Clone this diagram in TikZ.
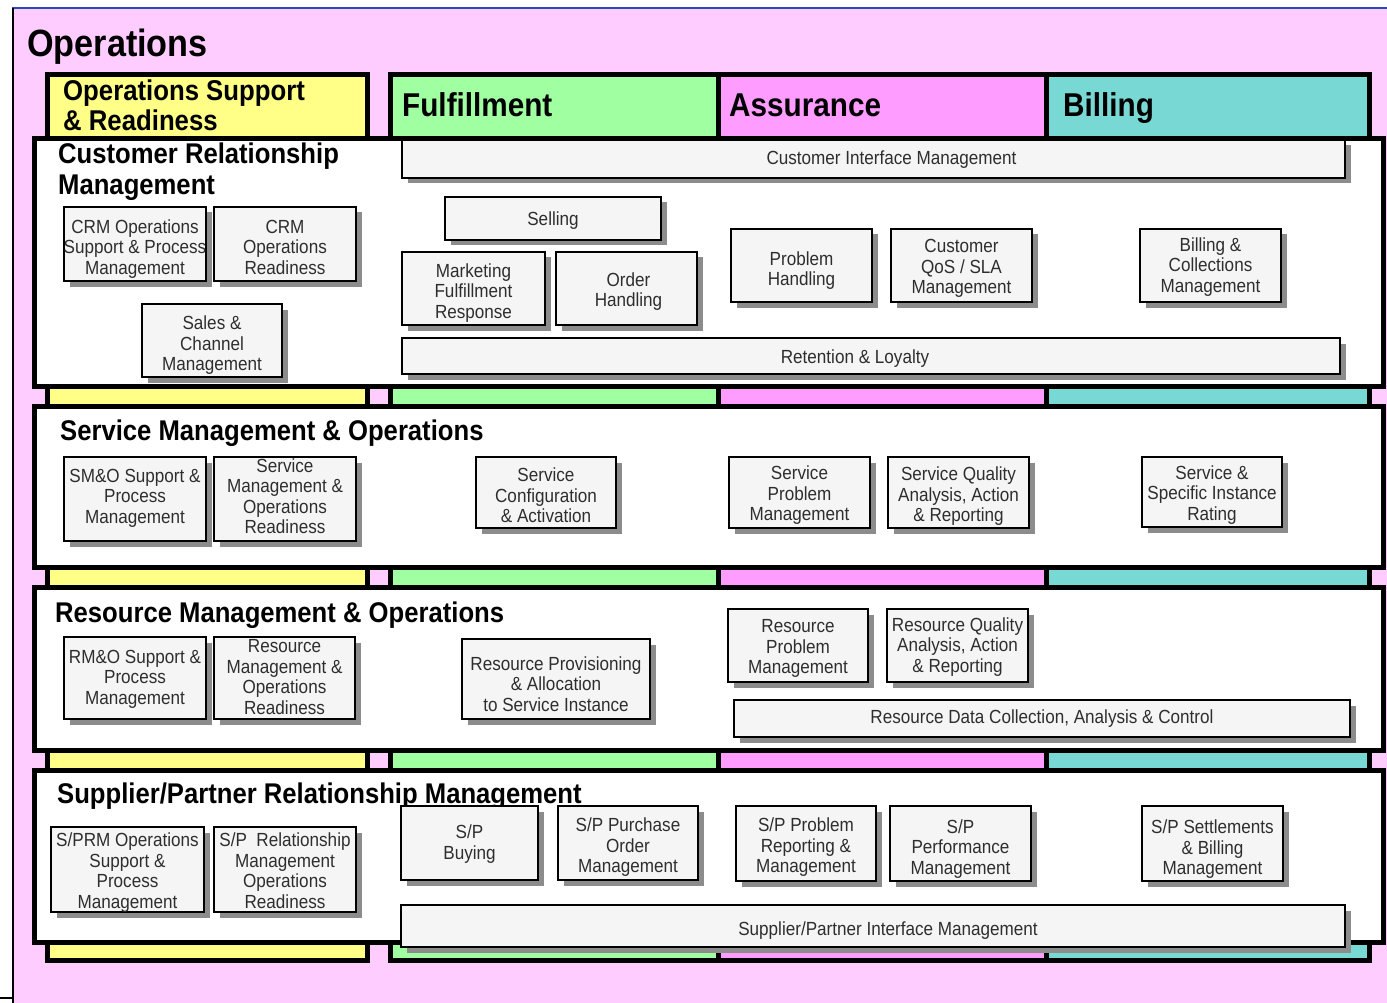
\documentclass[tikz,border=0pt]{standalone}
\usepackage{fontspec}
\setmainfont{Liberation Sans}[FakeStretch=0.9]
\usetikzlibrary{shadows}

\definecolor{pinkbg}{HTML}{FFCCFF}
\definecolor{colyellow}{HTML}{FFFF88}
\definecolor{colgreen}{HTML}{A0FFA0}
\definecolor{colmagenta}{HTML}{FF9CFF}
\definecolor{colteal}{HTML}{78D8D4}
\definecolor{boxfill}{HTML}{F5F5F5}
\definecolor{shadowgray}{HTML}{8C8C8C}
\definecolor{topblue}{HTML}{2848C0}

% process box given by its corner coordinates; the optional argument
% lowers its label by that many points
\newcommand{\pbox}[7][3]{%
  \node[pbox, minimum width={(#5-#3)*1pt}, minimum height={(#6-#4)*1pt}]
    (#2) at ({(#3+#5)/2},{(#4+#6)/2}) {};
  \node[pboxtext] (#2t) at ([yshift=-#1pt]#2.center) {#7};}

\tikzset{
  pbox/.style={draw=black, line width=1.5pt, fill=boxfill, inner sep=0pt,
    drop shadow={shadow xshift=5.5pt, shadow yshift=-5.5pt,
      fill=shadowgray, opacity=1}},
  pboxtext/.style={inner sep=0pt, align=center, text=black!82,
    font=\fontsize{19}{20.5}\selectfont},
  column/.style={draw=black, line width=5pt},
  band/.style={draw=black, line width=5pt, fill=white},
  bandtitle/.style={anchor=base west, inner sep=0pt, align=left,
    font=\bfseries\fontsize{28.5}{31}\selectfont},
  colhead/.style={anchor=base west, inner sep=0pt,
    font=\bfseries\fontsize{33}{36}\selectfont},
}

\begin{document}
\begin{tikzpicture}[x=1pt, y=-1pt]
  \useasboundingbox (0,0) rectangle (1387,1003);
  \fill[white] (0,0) rectangle (1387,1003);

  % page frame
  \fill[pinkbg] (12,8) rectangle (1387,1003);
  \draw[topblue, line width=2pt] (12,8.5) -- (1387,8.5);
  \draw[black, line width=2pt] (12.5,8) -- (12.5,1003);
  \draw[black, line width=1.5pt] (0,998) -- (12,998);

  \node[anchor=base west, inner sep=0pt,
    font=\bfseries\fontsize{38}{40}\selectfont] (ops) at (27,57) {Operations};

  % vertical process groupings
  \draw[column, fill=colyellow]  (47.5,74.5) rectangle (367.5,960.5);
  \draw[column, fill=colgreen]   (390.5,74.5) rectangle (718,960.5);
  \draw[column, fill=colmagenta] (718,74.5) rectangle (1046.5,960.5);
  \draw[column, fill=colteal]    (1046.5,74.5) rectangle (1369.5,960.5);

  \node[bandtitle, font=\bfseries\fontsize{28.6}{30}\selectfont]
    (osr) at (63,131) {Operations Support\\\& Readiness};
  \node[colhead] (ful) at (402,117) {Fulfillment};
  \node[colhead] (ass) at (729,117) {Assurance};
  \node[colhead] (bil) at (1063,117) {Billing};

  % horizontal management layers
  \draw[band] (34.5,138.5) rectangle (1383.5,386.5);
  \draw[band] (34.5,406.5) rectangle (1383.5,567);
  \draw[band] (34.5,587.5) rectangle (1383.5,750);
  \draw[band] (34.5,770.5) rectangle (1383.5,942.5);

  \node[bandtitle] (crm) at (58,195) {Customer Relationship\\Management};
  \node[bandtitle] (smo) at (60,440) {Service Management \& Operations};
  \node[bandtitle] (rmo) at (55,622) {Resource Management \& Operations};
  \node[bandtitle] (sprm) at (57,803) {Supplier/Partner Relationship Management};

  % Customer Relationship Management
  \pbox[1]{cim}{402}{140}{1345}{178}{\hspace*{36pt}Customer Interface Management}
  \pbox[5]{crmops}{64}{207}{206}{281}{CRM Operations\\Support \& Process\\Management}
  \pbox{crmready}{214}{207}{356}{281}{CRM\\Operations\\Readiness}
  \pbox[5]{sales}{142}{304}{282}{377}{Sales \&\\Channel\\Management}
  \pbox[2]{selling}{445}{197}{661}{240}{Selling}
  \pbox[4.5]{mktg}{402}{252}{545}{325}{Marketing\\Fulfillment\\Response}
  \pbox{order}{556}{252}{697}{325}{\hspace*{4pt}Order\\\hspace*{4pt}Handling}
  \pbox[5]{probh}{731}{229}{872}{302}{Problem\\Handling}
  \pbox{qos}{891}{229}{1032}{302}{Customer\\QoS / SLA\\Management}
  \pbox[1.5]{billcoll}{1140}{229}{1281}{302}{Billing \&\\Collections\\Management}
  \pbox{retention}{402}{338}{1340}{374}{Retention \& Loyalty\hspace*{32pt}}

  % Service Management & Operations
  \pbox[-1]{smosup}{64}{457}{206}{541}{SM\&O Support \&\\Process\\Management}
  \pbox[-3]{smoready}{214}{457}{356}{541}{Service\\Management \&\\Operations\\Readiness}
  \pbox{scfg}{476}{457}{616}{528}{Service\\Configuration\\\& Activation}
  \pbox{sprob}{729}{457}{870}{528}{Service\\Problem\\Management}
  \pbox[4]{squal}{888}{457}{1029}{528}{Service Quality\\Analysis, Action\\\& Reporting}
  \pbox{srate}{1142}{457}{1282}{527}{Service \&\\Specific Instance\\Rating}

  % Resource Management & Operations
  \pbox[1]{rmosup}{64}{637}{206}{719}{RM\&O Support \&\\Process\\Management}
  \pbox[-1]{rmoready}{214}{637}{355}{719}{Resource\\Management \&\\Operations\\Readiness}
  \pbox[5]{rprov}{462}{639}{650}{719}{Resource Provisioning\\\& Allocation\\to Service Instance}
  \pbox{rprob}{728}{609}{868}{682}{Resource\\Problem\\Management}
  \pbox[1.5]{rqual}{887}{609}{1028}{682}{Resource Quality\\Analysis, Action\\\& Reporting}
  \pbox[0]{rdata}{734}{700}{1350}{737}{Resource Data Collection, Analysis \& Control}

  % Supplier/Partner Relationship Management
  \pbox{sprmops}{51}{827}{204}{912}{S/PRM Operations\\Support \&\\Process\\Management}
  \pbox[1]{sprel}{214}{827}{356}{912}{S/P\ \ Relationship\\Management\\Operations\\Readiness}
  \pbox[1]{spbuy}{401}{806}{538}{880}{S/P\\Buying}
  \pbox[4.5]{sppo}{558}{806}{698}{880}{S/P Purchase\\Order\\Management}
  \pbox[4]{spprob}{736}{806}{876}{881}{S/P Problem\\Reporting \&\\Management}
  \pbox[5.5]{spperf}{890}{806}{1031}{881}{S/P\\Performance\\Management}
  \pbox[6]{spset}{1142}{806}{1283}{881}{S/P Settlements\\\& Billing\\Management}
  \pbox[5]{spim}{401}{905}{1345}{947}{\hspace*{30pt}Supplier/Partner Interface Management}
\end{tikzpicture}
\end{document}
